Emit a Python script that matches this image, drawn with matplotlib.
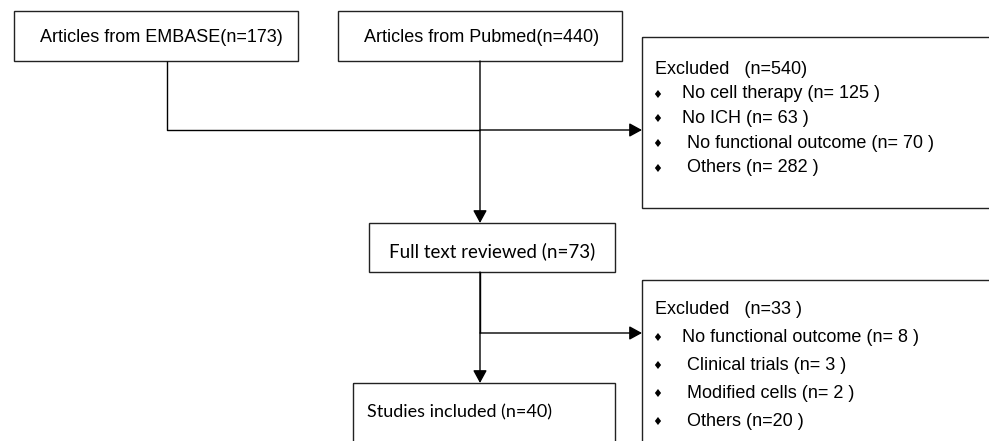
import matplotlib
matplotlib.use('Agg')
import matplotlib.pyplot as plt
from matplotlib.patches import Rectangle

source_labels = ['Articles from EMBASE(n=173)', 'Articles from Pubmed(n=440)']
excl1_title = 'Excluded   (n=540)'
excl1_items = ['No cell therapy (n= 125 )', 'No ICH (n= 63 )',
               ' No functional outcome (n= 70 )', ' Others (n= 282 )']
review_label = 'Full text reviewed (n=73)'
excl2_title = 'Excluded   (n=33 )'
excl2_items = ['No functional outcome (n= 8 )', ' Clinical trials (n= 3 )',
               ' Modified cells (n= 2 )', ' Others (n=20 )']
included_label = 'Studies included (n=40)'

W, H = 989, 441
fig = plt.figure(figsize=(W / 100, H / 100), dpi=100)
ax = fig.add_axes([0, 0, 1, 1])
ax.set_xlim(0, W)
ax.set_ylim(H, 0)
ax.axis('off')

LW = 1.0
ARIAL = 'Liberation Sans'
CALIBRI = ['Lato', 'DejaVu Sans']
FS = 13


def box(x0, y0, x1, y1):
    ax.add_patch(Rectangle((x0, y0), x1 - x0, y1 - y0, fill=False,
                           edgecolor='#222222', lw=LW, clip_on=False))


def line(xs, ys):
    ax.plot(xs, ys, color='black', lw=LW, solid_capstyle='butt')


def arrow(x0, y0, x1, y1):
    ax.annotate('', xy=(x1, y1), xytext=(x0, y0),
                arrowprops=dict(arrowstyle='-|>,head_length=0.55,head_width=0.3',
                                color='black', lw=LW, shrinkA=0, shrinkB=0,
                                mutation_scale=14))


# source boxes
box(14, 11, 298, 61)
box(338, 11, 622, 61)
ax.text(161, 37, source_labels[0], ha='center', va='center', fontsize=FS, family=ARIAL)
ax.text(482, 37, source_labels[1], ha='center', va='center', fontsize=FS, family=ARIAL)

# connectors from sources
line([167, 167, 480], [61, 130, 130])
arrow(480, 130, 642, 130)
arrow(480, 61, 480, 223)

# first exclusion box
box(642, 37, 1000, 208)
ax.text(655, 69, excl1_title, ha='left', va='center', fontsize=FS, family=ARIAL)
for i, t in enumerate(excl1_items):
    y = 94 + i * 24.5
    ax.text(657, y + 1, '\u2666', ha='center', va='center', fontsize=8, family='DejaVu Sans')
    ax.text(682, y, t, ha='left', va='center', fontsize=FS, family=ARIAL)

# full text box
box(369, 223, 615, 272)
ax.text(492, 251, review_label, ha='center', va='center', fontsize=13.5, family=CALIBRI)

line([480, 480], [272, 333])
arrow(480, 272, 480, 383)
arrow(480, 333, 642, 333)

# second exclusion box
box(642, 280, 1000, 460)
ax.text(655, 309, excl2_title, ha='left', va='center', fontsize=FS, family=ARIAL)
for i, t in enumerate(excl2_items):
    y = 337 + i * 28
    ax.text(657, y + 1, '\u2666', ha='center', va='center', fontsize=8, family='DejaVu Sans')
    ax.text(682, y, t, ha='left', va='center', fontsize=FS, family=ARIAL)

# included box
box(353, 383, 615, 460)
ax.text(367, 412, included_label, ha='left', va='center', fontsize=13, family=CALIBRI)

fig.savefig('out.png', dpi=100, facecolor='white')
